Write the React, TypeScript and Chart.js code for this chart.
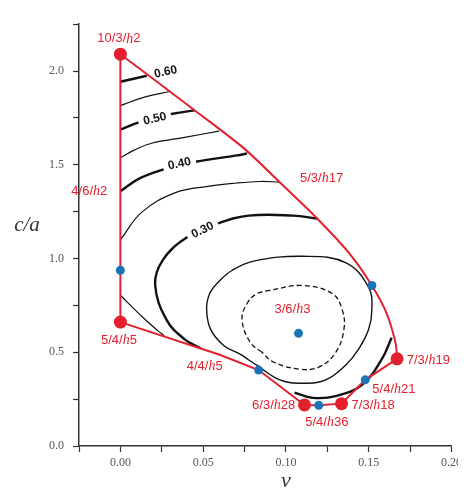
import React, { useEffect, useRef } from 'react';
import { Chart, registerables } from 'chart.js';

Chart.register(...registerables);

// ---------- data ----------
const xRange = [-0.025, 0.2];
const yRange = [0, 2.25];

// stability boundary (red): straight part and curved upper part
const boundaryLower: number[][] = [
  [0, 2.09], [0, 0.661], [0.06, 0.487], [0.0835, 0.405], [0.1112, 0.219],
  [0.1198, 0.217], [0.1336, 0.226], [0.1479, 0.353], [0.1671, 0.465],
];
const boundaryUpper: number[][] = [
  [0.1671, 0.465], [0.1662, 0.55], [0.1608, 0.708], [0.1519, 0.856],
  [0.139, 1.02], [0.119, 1.212], [0.097, 1.4], [0.075, 1.585], [0.045, 1.79], [0, 2.09],
];

// red structure points
const redX = [0, 0, 0.1671, 0.1112, 0.1336];
const redY = [2.09, 0.661, 0.465, 0.219, 0.226];

// blue structure points
const blueX = [0, 0.1076, 0.0835, 0.1198, 0.1479, 0.1519];
const blueY = [0.9375, 0.601, 0.405, 0.217, 0.353, 0.856];

// contours
const c060: number[][] = [[0, 1.943], [0.008, 1.959], [0.016, 1.975]];
const c055: number[][] = [[0, 1.816], [0.015, 1.862], [0.0299, 1.891]];
const c050: number[][] = [[0, 1.6875], [0.012, 1.729], [0.0307, 1.771], [0.0448, 1.79]];
const c045: number[][] = [[0, 1.538], [0.008, 1.577], [0.0188, 1.615], [0.0388, 1.646], [0.0596, 1.68]];
const c040: number[][] = [[0, 1.359], [0.011, 1.425], [0.0247, 1.472], [0.0455, 1.516], [0.0705, 1.55], [0.0765, 1.56]];
const c035: number[][] = [[0, 1.099], [0.0128, 1.246], [0.0329, 1.35], [0.0527, 1.385], [0.0705, 1.403], [0.0844, 1.411], [0.0961, 1.408]];
const c035b: number[][] = [[0, 0.804], [0.013, 0.691], [0.0229, 0.613], [0.0265, 0.589]];
const c030a: number[][] = [
  [0.1192, 1.212], [0.1043, 1.229], [0.0775, 1.229], [0.0586, 1.186], [0.0396, 1.109],
  [0.0255, 0.99], [0.021, 0.86], [0.0279, 0.673], [0.0388, 0.569], [0.0487, 0.52],
];
const c030b: number[][] = [[0.1052, 0.285], [0.1162, 0.257], [0.13, 0.266], [0.146, 0.327], [0.158, 0.465], [0.1638, 0.578]];
// closed loops (start on a straight stretch)
const c025: number[][] = [
  [0.0774, 0.46], [0.0723, 0.49], [0.0626, 0.535], [0.0546, 0.621], [0.0521, 0.726],
  [0.0539, 0.8125], [0.0598, 0.88], [0.0676, 0.9375], [0.0805, 0.986], [0.1102, 1.012],
  [0.136, 0.978], [0.1499, 0.847], [0.1519, 0.726], [0.1499, 0.621], [0.1439, 0.517],
  [0.136, 0.431], [0.1241, 0.353], [0.1102, 0.335], [0.0963, 0.353], [0.0824, 0.431],
];
const c020: number[][] = [
  [0.0855, 0.5], [0.0785, 0.552], [0.0735, 0.673], [0.0765, 0.76], [0.0824, 0.8125],
  [0.0904, 0.83], [0.1102, 0.856], [0.1281, 0.8125], [0.134, 0.726], [0.135, 0.621],
  [0.1301, 0.5], [0.1201, 0.422], [0.1082, 0.41], [0.0924, 0.448],
];

// contour labels: text, x, y, angle(deg)
const contourLabelText = ['0.60', '0.50', '0.40', '0.30'];
const contourLabelX = [0.0274, 0.0208, 0.0357, 0.0497];
const contourLabelY = [1.995, 1.745, 1.505, 1.151];
const contourLabelAngle = [-12, -13, -12, -25];

// structure labels
const structText = ['10/3/h2', '4/6/h2', '5/3/h17', '5/4/h5', '4/4/h5', '3/6/h3', '7/3/h19', '5/4/h21', '6/3/h28', '7/3/h18', '5/4/h36'];
const structX = [-0.0009, -0.0188, 0.1215, -0.0009, 0.0509, 0.1039, 0.186, 0.1652, 0.0926, 0.1527, 0.1247];
const structY = [2.172, 1.359, 1.43, 0.5625, 0.427, 0.729, 0.458, 0.302, 0.219, 0.219, 0.125];

const RED = '#e4202e';
const BLUE = '#1c74b8';
const BLACK = '#111111';

const pts = (a: number[][]) => a.map(([x, y]) => ({ x, y }));
const closed = (a: number[][]) => [...a, a[0]];

function drawRich(ctx: CanvasRenderingContext2D, text: string, cx: number, cy: number) {
  const i = text.indexOf('h');
  const parts = [
    { t: text.slice(0, i), f: '13px "Liberation Sans"' },
    { t: 'h', f: 'italic 14px "Liberation Serif"' },
    { t: text.slice(i + 1), f: '13px "Liberation Sans"' },
  ];
  let total = 0;
  const widths = parts.map((p) => {
    ctx.font = p.f;
    const w = ctx.measureText(p.t).width;
    total += w;
    return w;
  });
  let x = cx - total / 2;
  ctx.fillStyle = RED;
  ctx.textBaseline = 'middle';
  ctx.textAlign = 'left';
  parts.forEach((p, k) => {
    ctx.font = p.f;
    ctx.fillText(p.t, x, cy);
    x += widths[k];
  });
}

const labelPlugin = {
  id: 'labels',
  afterDatasetsDraw(chart: any) {
    const ctx: CanvasRenderingContext2D = chart.ctx;
    const xs = chart.scales.x;
    const ys = chart.scales.y;
    ctx.save();
    contourLabelText.forEach((t, k) => {
      const px = xs.getPixelForValue(contourLabelX[k]);
      const py = ys.getPixelForValue(contourLabelY[k]);
      ctx.save();
      ctx.translate(px, py);
      ctx.rotate((contourLabelAngle[k] * Math.PI) / 180);
      ctx.font = 'bold 12px "Liberation Sans"';
      const w = ctx.measureText(t).width;
      if (k > 0) {
        ctx.fillStyle = '#ffffff';
        ctx.fillRect(-w / 2 - 5, -7, w + 10, 14);
      }
      ctx.fillStyle = BLACK;
      ctx.textAlign = 'center';
      ctx.textBaseline = 'middle';
      ctx.fillText(t, 0, 0);
      ctx.restore();
    });
    structText.forEach((t, k) => {
      drawRich(ctx, t, xs.getPixelForValue(structX[k]), ys.getPixelForValue(structY[k]));
    });
    ctx.fillStyle = '#333';
    ctx.textAlign = 'center';
    ctx.textBaseline = 'middle';
    ctx.font = 'italic 21px "Liberation Serif"';
    ctx.fillText('c/a', 19, 217);
    ctx.font = 'italic 22px "Liberation Serif"';
    ctx.fillText('\u03bd', xs.getPixelForValue(0.1), 473);
    ctx.restore();
  },
};

export default function App() {
  const ref = useRef<HTMLCanvasElement>(null);
  useEffect(() => {
    document.body.style.overflow = 'hidden';
    const line = (d: number[][], w: number, extra: any = {}) => ({
      data: pts(d),
      showLine: true,
      borderColor: BLACK,
      borderWidth: w,
      pointRadius: 0,
      tension: 0.4,
      fill: false,
      ...extra,
    });
    const chart = new Chart(ref.current as HTMLCanvasElement, {
      type: 'scatter',
      data: {
        datasets: [
          {
            data: blueX.map((x, i) => ({ x, y: blueY[i] })),
            pointRadius: 4.5,
            backgroundColor: BLUE,
            borderWidth: 0,
            showLine: false,
          },
          {
            data: redX.map((x, i) => ({ x, y: redY[i] })),
            pointRadius: 6.5,
            backgroundColor: RED,
            borderWidth: 0,
            showLine: false,
          },
          {
            data: pts(boundaryLower),
            showLine: true,
            borderColor: RED,
            borderWidth: 2,
            pointRadius: 0,
            tension: 0,
          },
          {
            data: pts(boundaryUpper),
            showLine: true,
            borderColor: RED,
            borderWidth: 2,
            pointRadius: 0,
            tension: 0.3,
          },
          line(c060, 2.4),
          line(c055, 1.2),
          line(c050, 2.4),
          line(c045, 1.2),
          line(c040, 2.4),
          line(c035, 1.2),
          line(c035b, 1.2),
          line(c030a, 2.4),
          line(c030b, 2.4),
          line(closed(c025), 1.4),
          line(closed(c020), 1.3, { borderDash: [5, 3] }),
        ] as any,
      },
      options: {
        animation: false,
        responsive: false,
        events: [],
        layout: { padding: { top: 6, right: 8.5, left: 0, bottom: 0 }, autoPadding: false } as any,
        plugins: { legend: { display: false }, tooltip: { enabled: false } },
        scales: {
          x: {
            type: 'linear',
            min: xRange[0],
            max: xRange[1],
            afterFit: (s: any) => { s.height = 42; },
            ticks: {
              stepSize: 0.025,
              autoSkip: false,
              maxRotation: 0,
              padding: 4,
              color: '#555',
              font: { family: 'Liberation Serif', size: 12 },
              callback: (v: any) => {
                const n = Number(v);
                if (n < -1e-9) return '';
                return Math.abs(n * 20 - Math.round(n * 20)) < 1e-6 ? n.toFixed(2) : '';
              },
            },
            grid: { drawOnChartArea: false, drawTicks: true, tickLength: 6, tickColor: '#333', tickWidth: 1.2 },
            border: { color: '#333', width: 1.5 },
          },
          y: {
            type: 'linear',
            min: yRange[0],
            max: yRange[1],
            afterFit: (s: any) => { s.width = 71; },
            ticks: {
              stepSize: 0.25,
              autoSkip: false,
              padding: 9,
              color: '#555',
              font: { family: 'Liberation Serif', size: 12 },
              callback: (v: any) => {
                const n = Number(v);
                return Math.abs(n * 2 - Math.round(n * 2)) < 1e-6 ? n.toFixed(1) : '';
              },
            },
            grid: { drawOnChartArea: false, drawTicks: true, tickLength: 6, tickColor: '#333', tickWidth: 1.2 },
            border: { color: '#333', width: 1.5 },
          },
        },
      } as any,
      plugins: [labelPlugin],
    });
    return () => chart.destroy();
  }, []);
  return (
    <div style={{ width: 458, height: 480 }}>
      <canvas ref={ref} width={458} height={480} style={{ display: 'block' }} />
    </div>
  );
}
